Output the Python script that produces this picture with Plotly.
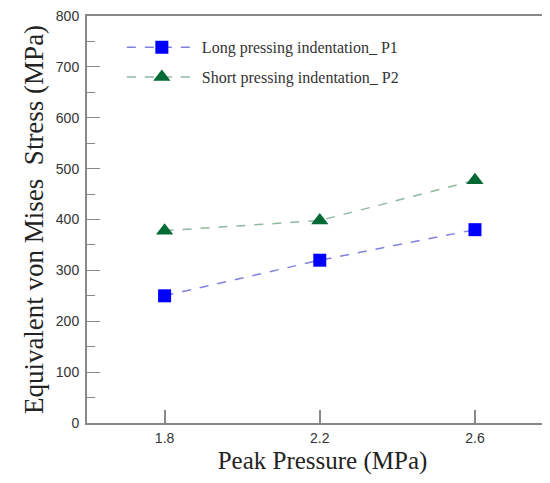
import plotly.graph_objects as go

pressure = [1.8, 2.2, 2.6]
long_p1 = [250, 320, 380]
short_p2 = [378, 398, 477]
series_names = ["Long pressing indentation_ P1", "Short pressing indentation_ P2"]
y_ticks = [0, 100, 200, 300, 400, 500, 600, 700, 800]
x_ticks = [1.8, 2.2, 2.6]

fig = go.Figure()
fig.add_trace(go.Scatter(
    x=pressure, y=long_p1, name=series_names[0], mode="lines+markers", legendgroup="a",
    line=dict(color="#8080e0", width=1.5, dash="dash"),
    marker=dict(symbol="square", size=13, color="#0000ff", line=dict(width=0)),
))
fig.add_trace(go.Scatter(
    x=pressure, y=short_p2, name=series_names[1], mode="lines+markers", legendgroup="b",
    line=dict(color="#8fb8a0", width=1.5, dash="dash"),
    marker=dict(symbol="triangle-up", size=15, color="#006a35", line=dict(width=0)),
))

axis_font = dict(family="Liberation Sans, Arial", size=14, color="#333333")
ytitle_font = dict(family="Liberation Serif, Times New Roman", size=27, color="#222222")
xtitle_font = dict(family="Liberation Serif, Times New Roman", size=25, color="#222222")

# page body has an 8px margin; offsets below compensate for it
fig.update_layout(
    width=550, height=467,
    margin=dict(l=79, r=0, t=8, b=52),
    plot_bgcolor="white", paper_bgcolor="white",
    showlegend=True,
    legend=dict(
        x=0.074, y=0.965, xanchor="left", yanchor="top",
        bgcolor="rgba(0,0,0,0)",
        font=dict(family="Liberation Serif, Times New Roman", size=16, color="#333333"),
        tracegroupgap=6, itemwidth=70,
    ),
    xaxis=dict(
        range=[1.6, 2.814], tickvals=x_ticks, ticktext=[str(v) for v in x_ticks],
        ticks="inside", ticklen=13, tickcolor="#888888", tickwidth=1.5,
        showline=True, linecolor="#888888", linewidth=2, mirror=True,
        showgrid=False, zeroline=False, tickfont=axis_font, automargin=False,
        ticklabelstandoff=1, ticklabeloverflow="allow",
        title=dict(text="Peak Pressure (MPa)", font=xtitle_font),
    ),
    yaxis=dict(
        range=[0, 800], tickvals=y_ticks,
        ticks="inside", ticklen=13, tickcolor="#888888", tickwidth=1.2,
        minor=dict(dtick=50, ticks="inside", ticklen=8, tickcolor="#888888", tickwidth=1.2),
        showline=True, linecolor="#888888", linewidth=2, mirror=True,
        showgrid=False, zeroline=False, tickfont=axis_font, automargin=False,
        ticklabelstandoff=3, ticklabeloverflow="allow",
        title=dict(text="Equivalent von Mises  Stress (MPa)", font=ytitle_font, standoff=4),
    ),
)

fig.write_html("out.html")
